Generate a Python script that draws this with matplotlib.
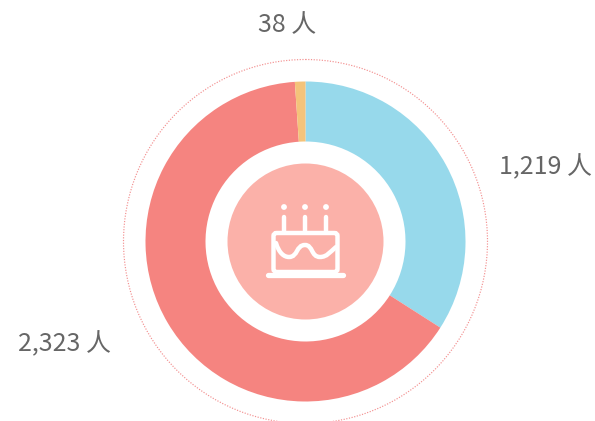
import matplotlib
matplotlib.use("Agg")
import matplotlib.pyplot as plt
from matplotlib.patches import Circle, FancyBboxPatch
from matplotlib.path import Path
from matplotlib.patches import PathPatch

categories = ["a", "b", "c"]
values = [1219, 2323, 38]
labels = ["1,219 人", "2,323 人", "38 人"]
colors = ["#97D9EB", "#F58480", "#F4C37A"]

plt.rcParams['font.family'] = ['Noto Sans CJK SC', 'DejaVu Sans']
fig = plt.figure(figsize=(5.95, 4.21), dpi=100)
ax = fig.add_axes([0, 0, 1, 1])
cx, cy = 305.5, 241.5
ax.pie(values, colors=colors, startangle=-90, counterclock=True, center=(cx, cy),
       radius=160, wedgeprops=dict(width=60, linewidth=0))
ax.set_xlim(0, 595)
ax.set_ylim(421, 0)
ax.set_aspect('equal')
ax.axis('off')

ax.add_patch(Circle((cx, cy), 182, fill=False, ec="#F39090", lw=0.85,
                    linestyle=(0, (1, 1.3))))
ax.add_patch(Circle((cx, cy), 78, fc="#FBB1A9", ec="none"))

label_pos = [(545.5, 167), (64, 344.5), (287, 25)]
for t, (x, y) in zip(labels, label_pos):
    ax.text(x, y, t, ha="center", va="center", fontsize=18, color="#666666")

# cake icon
w = "white"
lw = 3.2
ax.add_patch(FancyBboxPatch((273.5, 233), 64, 39, boxstyle="round,pad=0,rounding_size=3",
                            fc="none", ec=w, lw=lw))
ax.plot([268, 343], [274.5, 274.5], color=w, lw=3.8, solid_capstyle="round")
for x in (284, 305, 326):
    ax.plot([x, x], [217, 232], color=w, lw=lw, solid_capstyle="round")
    ax.add_patch(Circle((x, 207), 2.9, fc=w, ec="none"))
wave = Path([(276, 243), (279, 253), (284, 257), (289, 257),
             (298, 257), (296, 245), (305, 245),
             (313, 245), (311, 257), (320, 257),
             (327, 257), (330, 252), (336, 247)],
            [Path.MOVETO] + [Path.CURVE4] * 12)
ax.add_patch(PathPatch(wave, fc="none", ec=w, lw=lw, capstyle="round"))

fig.savefig("out.png", dpi=100)
